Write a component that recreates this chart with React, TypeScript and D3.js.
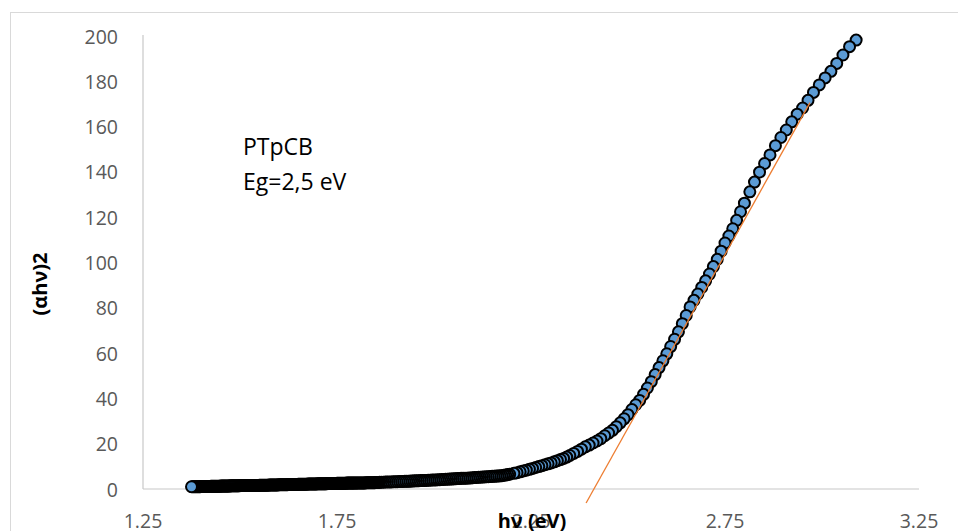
import React from 'react';
import * as d3 from 'd3';

// photon energy (eV) and (αhν)², split by region of the curve
const lowE = [
  1.375,1.3775,1.38,1.3825,1.385,1.3875,1.39,1.3925,1.395,1.3975,
  1.4,1.4025,1.405,1.4075,1.41,1.4125,1.415,1.4175,1.42,1.4225,
  1.425,1.4275,1.43,1.4325,1.435,1.4375,1.44,1.4425,1.445,1.4475,
  1.45,1.4525,1.455,1.4575,1.46,1.4625,1.465,1.4675,1.47,1.4725,
  1.475,1.4775,1.48,1.4825,1.485,1.4875,1.49,1.4925,1.495,1.4975,
  1.5,1.5025,1.505,1.5075,1.51,1.5125,1.515,1.5175,1.52,1.5225,
  1.525,1.5275,1.53,1.5325,1.535,1.5375,1.54,1.5425,1.545,1.5475,
  1.55,1.5525,1.555,1.5575,1.56,1.5625,1.565,1.5675,1.57,1.5725,
  1.575,1.5775,1.58,1.5825,1.585,1.5875,1.59,1.5925,1.595,1.5975,
  1.6,1.6025,1.605,1.6075,1.61,1.6125,1.615,1.6175,1.62,1.6225,
  1.625,1.6275,1.63,1.6325,1.635,1.6375,1.64,1.6425,1.645,1.6475,
  1.65,1.6525,1.655,1.6575,1.66,1.6625,1.665,1.6675,1.67,1.6725,
  1.675,1.6775,1.68,1.6825,1.685,1.6875,1.69,1.6925,1.695,1.6975,
  1.7,1.7025,1.705,1.7075,1.71,1.7125,1.715,1.7175,1.72,1.7225,
  1.725,1.7275,1.73,1.7325,1.735,1.7375,1.74,1.7425,1.745,1.7475,
  1.75,1.7525,1.755,1.7575,1.76,1.7625,1.765,1.7675,1.77,1.7725,
  1.775,1.7775,1.78,1.7825,1.785,1.7875,1.79,1.7925,1.795,1.7975,
  1.8,1.8025,1.805,1.8075,1.81,1.8125,1.815,1.8175,1.82,1.8225,
  1.825,1.8275,1.83,1.8325,1.835,1.8375,1.84,1.8425,1.845,1.8475,
  1.85,1.8525,1.855,1.8575,
];
const lowA = [
  1.0,1.0,1.0,1.0,1.0,1.0,1.0,1.0,1.0,1.0,
  1.1,1.1,1.1,1.1,1.1,1.1,1.1,1.1,1.1,1.1,
  1.2,1.2,1.2,1.2,1.2,1.2,1.2,1.2,1.2,1.2,
  1.3,1.3,1.3,1.3,1.3,1.3,1.3,1.3,1.3,1.3,
  1.4,1.4,1.4,1.4,1.4,1.4,1.4,1.4,1.4,1.4,
  1.5,1.5,1.5,1.5,1.5,1.5,1.5,1.5,1.5,1.5,
  1.6,1.6,1.6,1.6,1.6,1.6,1.6,1.6,1.6,1.6,
  1.7,1.7,1.7,1.7,1.7,1.7,1.7,1.7,1.7,1.7,
  1.8,1.8,1.8,1.8,1.8,1.8,1.8,1.8,1.8,1.8,
  1.9,1.9,1.9,1.9,1.9,1.9,1.9,1.9,1.9,1.9,
  2.0,2.0,2.0,2.0,2.0,2.0,2.0,2.0,2.0,2.0,
  2.1,2.1,2.1,2.1,2.1,2.1,2.1,2.1,2.1,2.1,
  2.2,2.2,2.2,2.2,2.2,2.2,2.2,2.2,2.2,2.2,
  2.3,2.3,2.3,2.3,2.3,2.3,2.3,2.3,2.3,2.3,
  2.4,2.4,2.4,2.4,2.4,2.4,2.4,2.4,2.4,2.4,
  2.5,2.5,2.5,2.5,2.5,2.5,2.5,2.5,2.5,2.5,
  2.6,2.6,2.6,2.6,2.6,2.6,2.6,2.6,2.6,2.6,
  2.7,2.7,2.7,2.7,2.7,2.7,2.7,2.7,2.7,2.7,
  2.8,2.8,2.8,2.8,2.8,2.8,2.8,2.8,2.8,2.8,
  2.9,2.9,2.9,2.9,
];

const midE = [
  1.86,1.865,1.87,1.875,1.88,1.885,1.89,1.895,1.9,1.905,1.91,1.915,1.92,1.925,1.93,1.935,1.94,
  1.945,1.95,1.955,1.96,1.965,1.97,1.975,1.98,1.985,1.99,1.995,2.0,2.005,2.01,2.015,2.02,2.025,
  2.03,2.035,2.04,2.045,2.05,2.055,2.06,2.065,2.07,2.075,2.08,2.085,2.09,2.095,2.1,2.105,2.11,
  2.115,2.12,2.125,2.13,2.135,2.14,2.145,2.15,2.155,2.16,2.165,2.17,2.175,2.18,2.185,2.19,2.195,
];
const midA = [
  3.0,3.0,3.0,3.1,3.1,3.1,3.1,3.2,3.2,3.2,3.3,3.3,3.3,3.4,3.4,3.4,3.5,
  3.5,3.6,3.6,3.6,3.7,3.7,3.8,3.8,3.9,3.9,4.0,4.0,4.0,4.1,4.1,4.2,4.2,
  4.3,4.3,4.4,4.4,4.5,4.5,4.6,4.6,4.7,4.7,4.8,4.8,4.9,4.9,5.0,5.1,5.1,
  5.2,5.2,5.3,5.3,5.4,5.4,5.5,5.6,5.6,5.7,5.7,5.8,5.9,6.1,6.2,6.4,6.5,
];

const kneeE = [2.206,2.214,2.222,2.23,2.238,2.246,2.254,2.262,2.27,2.278,2.286,2.294,2.302,2.31,2.318,2.326,2.334,2.342];
const kneeA = [6.9,7.2,7.6,8.0,8.3,8.7,9.1,9.5,9.9,10.3,10.7,11.1,11.5,12.0,12.5,13.0,13.5,14.1];

const riseE = [2.35,2.36,2.37,2.38,2.39,2.4,2.41,2.42,2.43,2.44,2.45,2.46,2.47,2.48,2.49,2.5,2.51,2.52,2.53,2.54,2.55,2.56,2.57,2.58,2.59,2.6,2.61,2.62,2.63,2.64,2.65,2.66,2.67,2.68,2.69,2.7,2.71,2.72,2.73,2.74,2.75,2.76,2.77,2.78,2.79,2.8];
const riseA = [14.8,15.7,16.6,17.6,18.6,19.4,20.3,21.2,22.2,23.5,24.7,25.9,27.5,29.2,31.0,32.8,35.1,37.2,39.1,41.8,44.6,47.4,50.5,53.6,56.6,59.7,62.9,66.1,69.4,73.0,76.6,80.4,83.3,86.1,89.0,91.9,94.9,98.2,101.4,105.0,108.6,111.7,114.9,118.6,122.4,126.2];

const topE = [2.814,2.826,2.839,2.852,2.866,2.88,2.894,2.908,2.922,2.936,2.95,2.964,2.978,2.993,3.008,3.023,3.038,3.054,3.071,3.088];
const topA = [131.2,135.5,139.9,143.7,147.5,151.6,155.2,158.5,162.1,165.5,168.2,171.6,175.1,178.4,181.5,184.4,187.9,191.6,195.3,198.2];

// linear fit (trendline) end points
const fitE = [2.392, 2.969];
const fitA = [-6.2, 170.6];

const xTicks = [1.25, 1.75, 2.25, 2.75, 3.25];
const yTicks = [0, 20, 40, 60, 80, 100, 120, 140, 160, 180, 200];
const noteLines = ['PTpCB', 'Eg=2,5 eV'];

const FONT = '"Open Sans", "Liberation Sans", sans-serif';

export default function App() {
  const width = 958;
  const height = 531;

  const x = d3.scaleLinear().domain([1.25, 3.25]).range([143, 919]);
  const y = d3.scaleLinear().domain([0, 200]).range([489, 36]);

  const energy = [...lowE, ...midE, ...kneeE, ...riseE, ...topE];
  const alpha = [...lowA, ...midA, ...kneeA, ...riseA, ...topA];
  // low-energy points end up on top
  const points = energy.map((e, i) => ({ e, a: alpha[i] })).reverse();

  const fit = d3.line<number>()
    .x((_, i) => x(fitE[i]))
    .y(d => y(d));

  return (
    <svg width={width} height={height} style={{ position: 'absolute', left: 0, top: 0, background: '#fff' }}
      fontFamily={FONT}>
      <rect x={10.5} y={12.5} width={970} height={540} fill="#fff" stroke="#D9D9D9" />

      {/* axes */}
      <line x1={x(1.25)} x2={x(1.25)} y1={y(0)} y2={y(200) - 1} stroke="#C8C8C8" strokeWidth={1.2} />
      <line x1={x(1.25)} x2={x(3.25)} y1={y(0)} y2={y(0)} stroke="#C8C8C8" strokeWidth={1.2} />

      {yTicks.map(t => (
        <text key={t} x={118} y={y(t)} textAnchor="end" dominantBaseline="central"
          fontSize={19.5} fill="#595959">{t}</text>
      ))}
      {xTicks.map(t => (
        <text key={t} x={x(t)} y={520} textAnchor="middle" dominantBaseline="central"
          fontSize={19.5} fill="#595959">{t.toFixed(2)}</text>
      ))}

      {/* data */}
      {points.map((p, i) => (
        <circle key={i} cx={x(p.e)} cy={y(p.a)} r={5.5} fill="#5B9BD5" stroke="#000" strokeWidth={2} />
      ))}
      <path d={fit(fitA) || ''} fill="none" stroke="#ED7D31" strokeWidth={1.3} />

      {/* titles */}
      <text x={532} y={520} textAnchor="middle" dominantBaseline="central" fontSize={20}
        fontWeight="bold" fill="#000">hν (eV)</text>
      <text transform="translate(39,284) rotate(-90)" textAnchor="middle" dominantBaseline="central"
        fontSize={20} fontWeight="bold" fill="#000">(αhν)2</text>

      {noteLines.map((s, i) => (
        <text key={s} x={243} y={155 + i * 35} fontSize={23} fill="#000">{s}</text>
      ))}
    </svg>
  );
}
